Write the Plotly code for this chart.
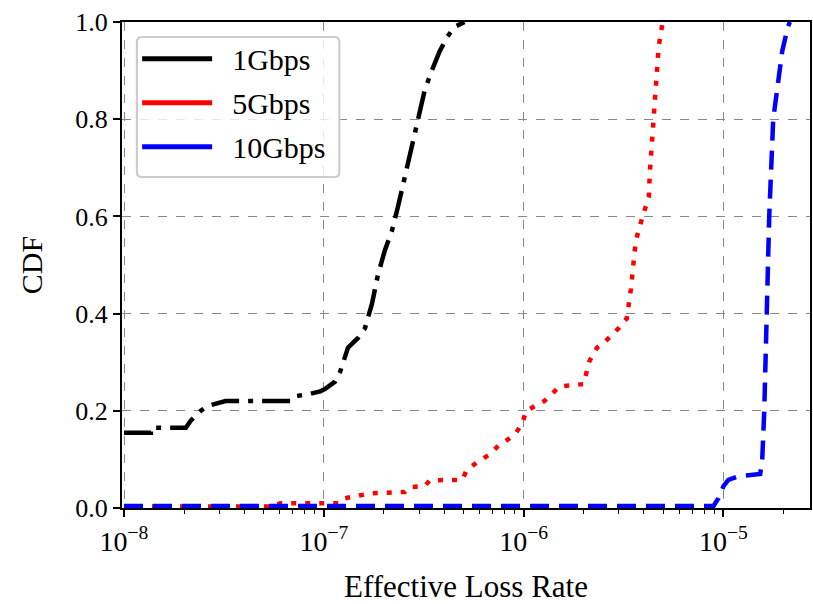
import plotly.graph_objects as go

series_names = ["1Gbps", "5Gbps", "10Gbps"]
colors = ["black", "red", "blue"]

x_1g = [1.00e-8, 1.363e-8, 1.363e-8, 2.04e-8, 2.16e-8, 2.28e-8, 2.42e-8, 2.62e-8, 2.87e-8, 3.22e-8,
        6.79e-8, 7.19e-8, 8.55e-8, 9.59e-8, 1.016e-7, 1.138e-7, 1.206e-7, 1.321e-7, 1.483e-7, 1.607e-7,
        1.741e-7, 1.866e-7, 2.02e-7, 2.19e-7, 2.35e-7, 2.54e-7, 2.75e-7, 2.95e-7, 3.20e-7, 3.47e-7,
        3.80e-7, 4.16e-7, 4.51e-7, 5.06e-7]
y_1g = [0.155, 0.155, 0.165, 0.165, 0.18, 0.19, 0.20, 0.21, 0.215, 0.22,
        0.22, 0.23, 0.235, 0.24, 0.245, 0.26, 0.28, 0.33, 0.35, 0.37,
        0.42, 0.48, 0.53, 0.57, 0.62, 0.68, 0.74, 0.80, 0.86, 0.90,
        0.94, 0.97, 0.99, 1.0]

x_5g = [1.0e-8, 5.59e-8, 6.06e-8, 1.206e-7, 1.277e-7, 1.70e-7, 2.54e-7, 2.69e-7, 3.20e-7, 3.39e-7,
        4.94e-7, 5.18e-7, 5.81e-7, 6.74e-7, 7.55e-7, 8.28e-7, 9.18e-7, 9.84e-7, 1.031e-6, 1.13e-6,
        1.267e-6, 1.39e-6, 1.504e-6, 2.00e-6, 2.12e-6, 2.33e-6, 2.52e-6, 2.99e-6, 3.28e-6, 3.44e-6,
        3.52e-6, 3.64e-6, 3.94e-6, 4.23e-6, 4.28e-6, 4.38e-6, 4.48e-6, 4.58e-6, 4.69e-6, 4.74e-6,
        4.85e-6, 4.96e-6]
y_5g = [0.003, 0.003, 0.01, 0.01, 0.02, 0.03, 0.033, 0.043, 0.045, 0.057,
        0.058, 0.078, 0.093, 0.11, 0.13, 0.14, 0.155, 0.175, 0.20, 0.21,
        0.22, 0.235, 0.25, 0.255, 0.30, 0.33, 0.34, 0.37, 0.39, 0.45,
        0.50, 0.55, 0.60, 0.64, 0.69, 0.75, 0.81, 0.864, 0.92, 0.95,
        0.974, 1.0]

x_10g = [1.0e-8, 8.91e-6, 9.44e-6, 1.0e-5, 1.058e-5, 1.186e-5, 1.527e-5, 1.563e-5, 1.60e-5, 1.637e-5,
         1.694e-5, 1.774e-5, 1.858e-5, 1.968e-5, 2.10e-5, 2.15e-5]
y_10g = [0.004, 0.004, 0.02, 0.045, 0.058, 0.065, 0.07, 0.10, 0.20, 0.40,
         0.60, 0.80, 0.87, 0.94, 0.99, 1.0]

x_tickvals = [1e-8, 1e-7, 1e-6, 1e-5]
x_ticktext = ["10<sup>\u22128</sup>", "10<sup>\u22127</sup>", "10<sup>\u22126</sup>", "10<sup>\u22125</sup>"]
x_minor_tickvals = [m * 10.0 ** e for e in (-8, -7, -6, -5) for m in range(2, 10)]
y_tickvals = [0.0, 0.2, 0.4, 0.6, 0.8, 1.0]
y_ticktext = ["0.0", "0.2", "0.4", "0.6", "0.8", "1.0"]

FONT = "Liberation Serif"

data = [(x_1g, y_1g), (x_5g, y_5g), (x_10g, y_10g)]
dashes = ["28px,9px,5px,9px", "5px,9px", "19px,10px"]
widths = [4.5, 4.5, 4.5]

fig = go.Figure()
for (xs, ys), c, d, w in zip(data, colors, dashes, widths):
    fig.add_trace(go.Scatter(x=xs, y=ys, mode="lines", showlegend=False,
                             line=dict(color=c, width=w, dash=d)))
for name, c in zip(series_names, colors):
    fig.add_trace(go.Scatter(x=[None], y=[None], mode="lines", name="\u00a0\u00a0" + name,
                             legendgroup=name, line=dict(color=c, width=5)))

# rounded legend frame (paper coordinates)
x0, x1, y0, y1 = 0.0217, 0.3159, 0.6811, 0.9691
rx, ry = 0.0075, 0.0105
frame = (f"M {x0+rx},{y0} L {x1-rx},{y0} Q {x1},{y0} {x1},{y0+ry} "
         f"L {x1},{y1-ry} Q {x1},{y1} {x1-rx},{y1} L {x0+rx},{y1} "
         f"Q {x0},{y1} {x0},{y1-ry} L {x0},{y0+ry} Q {x0},{y0} {x0+rx},{y0} Z")
fig.add_shape(type="path", path=frame, xref="paper", yref="paper", layer="above",
              fillcolor="rgba(255,255,255,0.8)", line=dict(color="#cccccc", width=2.2))

fig.update_layout(
    width=813, height=604,
    margin=dict(l=122, r=1, t=22, b=96),
    paper_bgcolor="white", plot_bgcolor="white",
    font=dict(family=FONT, color="black", size=20),
    legend=dict(x=0.022, y=0.978, xanchor="left", yanchor="top",
                bgcolor="rgba(0,0,0,0)", borderwidth=0,
                font=dict(size=30, family=FONT), itemwidth=70, tracegroupgap=2),
    xaxis=dict(type="log", range=[-8.01, -4.567], showline=True, linecolor="black", linewidth=2,
               mirror=True, ticks="outside", ticklen=7, tickwidth=1.5, tickcolor="black",
               tickvals=x_tickvals, ticktext=x_ticktext, tickfont=dict(size=28, family=FONT),
               showgrid=True, gridcolor="#888888", griddash="dash", gridwidth=1,
               minor=dict(ticks="outside", ticklen=4, tickwidth=1.2, tickcolor="black",
                          tickmode="array", tickvals=x_minor_tickvals, showgrid=False),
               title=dict(text="Effective Loss Rate", font=dict(size=31, family=FONT), standoff=23),
               zeroline=False),
    yaxis=dict(range=[0, 1], showline=True, linecolor="black", linewidth=2, mirror=True,
               ticks="outside", ticklen=7, tickwidth=1.5, tickcolor="black",
               tickvals=y_tickvals, ticktext=y_ticktext, tickfont=dict(size=26, family=FONT),
               showgrid=True, gridcolor="#888888", griddash="dash", gridwidth=1,
               title=dict(text="CDF", font=dict(size=30, family=FONT), standoff=24),
               zeroline=False),
)

fig.write_html("out.html")
